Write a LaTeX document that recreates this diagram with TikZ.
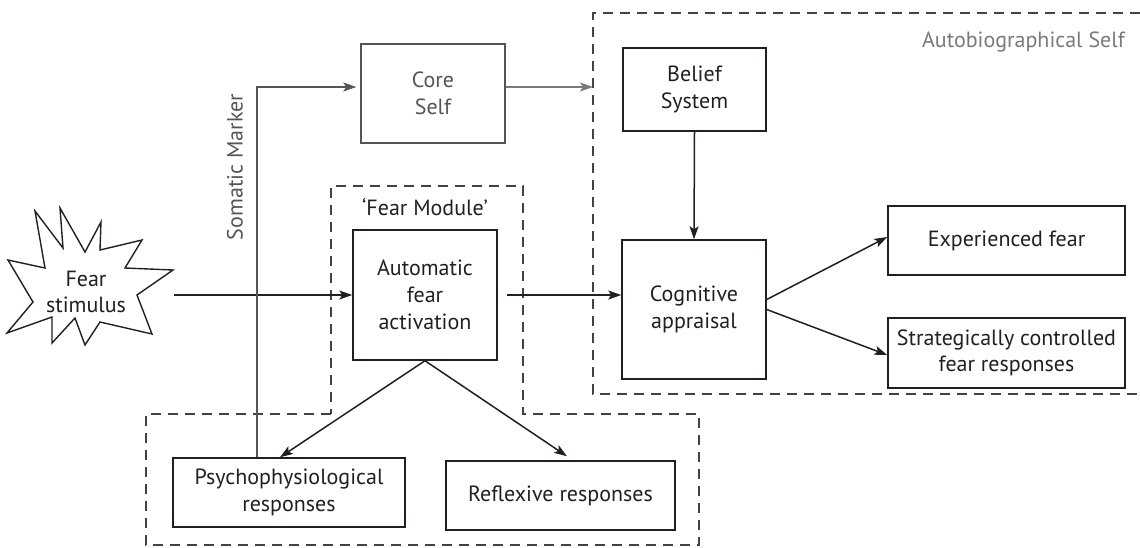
\documentclass[tikz,border=0pt]{standalone}
\usepackage{fontspec}
\setmainfont{PT Sans}
\usetikzlibrary{arrows.meta}
\definecolor{ink}{HTML}{231F20}
\definecolor{midgray}{HTML}{555555}
\definecolor{lightgray}{HTML}{7A7A7A}
\begin{document}
\begin{tikzpicture}[x=1pt,y=-1pt,
  font=\fontsize{22}{26.7}\selectfont,
  box/.style={draw=ink,line width=1.5pt,align=center,inner sep=0pt,text=ink},
  conn/.style={draw=ink,line width=1.5pt,-{Stealth[length=13pt,width=9pt,inset=3pt]}},
  group/.style={draw=ink!85,line width=1.4pt,dash pattern=on 10pt off 7pt},
  lbl/.style={inner sep=0pt,text=ink}]
\useasboundingbox (0,0) rectangle (1140,547);

% boxes
\node[box,draw=midgray,text=midgray,minimum width=144pt,minimum height=99pt] (core) at (433,93.5) {Core\\Self};
\node[box,minimum width=143pt,minimum height=83pt] (belief) at (694.5,89.5) {Belief\\System};
\node[box,minimum width=144pt,minimum height=139pt] (cog) at (694,309.5) {Cognitive\\appraisal};
\node[box,minimum width=237pt,minimum height=69pt] (exp) at (1006.5,240.5) {Experienced fear};
\node[box,minimum width=237pt,minimum height=70pt] (strat) at (1006.5,353) {Strategically controlled\\fear responses};
\node[box,minimum width=144pt,minimum height=130pt] (auto) at (425,295) {Automatic\\fear\\activation};
\node[box,minimum width=232pt,minimum height=69pt] (psycho) at (289,492.5) {Psychophysiological\\responses};
\node[box,minimum width=229pt,minimum height=69pt] (reflex) at (560.5,495.5) {Reflexive responses};

% fear stimulus burst
\draw[ink,line width=1.4pt,line join=miter]
  (8,260) -- (45,268) -- (35,211) -- (63,248) -- (60,208) -- (85,252)
  -- (101,222) -- (100,250) -- (142,240) -- (125,268) -- (173,270)
  -- (137,295) -- (152,334) -- (100,322) -- (85,345) -- (75,318)
  -- (52,343) -- (52,317) -- (7,333) -- (33,302) -- cycle;
\node[lbl,align=center] (stim) at (86,292) {Fear\\stimulus};
\coordinate (stimout) at (174,295);

% dashed groupings
\draw[group] (1140,13) -- (593,13) -- (593,394) -- (1140,394);
\draw[group] (331,414) -- (146,414) -- (146,545) -- (699,545) -- (699,414)
  -- (523,414) -- (523,186) -- (331,186) -- cycle;

% group labels
\node[lbl] (fm) at (425,207) {‘Fear Module’};
\node[lbl,text=lightgray,anchor=base east] (abs) at (1125,47) {Autobiographical Self};
\node[lbl,text=midgray,rotate=90] (sm) at (235,167) {Somatic Marker};

% connectors
\draw[conn] (stimout) -- (auto.west);
\draw[conn,shorten <=9pt] (auto.east) -- (cog.west |- auto.east);
\draw[conn] (belief.south) -- (cog.north);
\draw[conn] ([yshift=10pt]cog.east) -- ([yshift=3.5pt]exp.west);
\draw[conn] (cog.east) -- ([yshift=-2pt]strat.west);
\draw[conn] (auto.south) -- ([xshift=-9pt]psycho.north);
\draw[conn] (auto.south) -- ([xshift=6.5pt,yshift=4pt]reflex.north);

\coordinate (smtop) at (257,87);
\coordinate (absin) at (593,87);
\draw[conn,draw=midgray,shorten >=4pt]
  (psycho.north -| smtop) -- (smtop) -- (core.west |- smtop);
\draw[line width=1.5pt,draw=lightgray,-{Stealth[length=13pt,width=9pt,inset=3pt]}]
  (core.east |- smtop) -- (absin);
\end{tikzpicture}
\end{document}
